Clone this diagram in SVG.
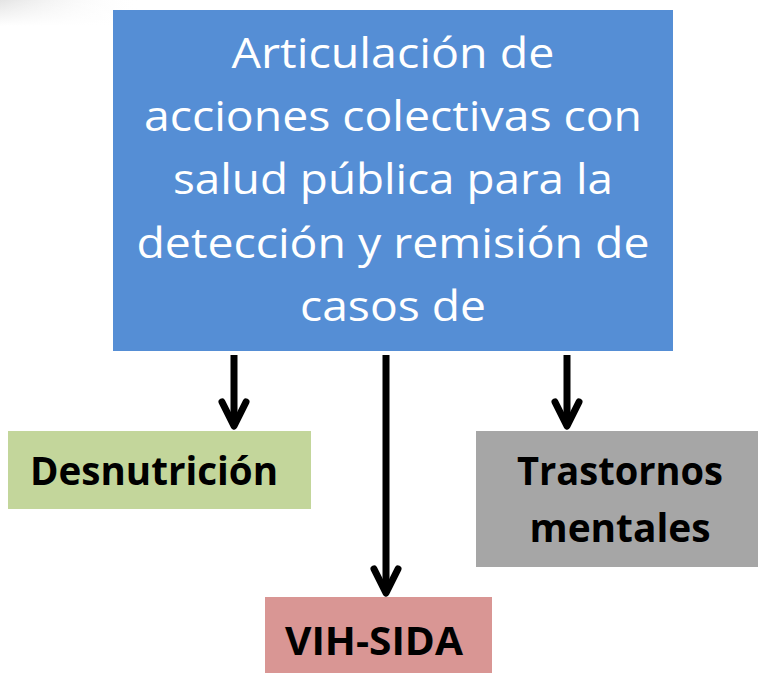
<svg xmlns="http://www.w3.org/2000/svg" width="758" height="673" viewBox="0 0 758 673">
<style>
.main{fill:#558ed5;}
.t1{font-family:"Open Sans","Noto Sans","Liberation Sans",sans-serif;font-size:42px;fill:#ffffff;text-anchor:middle;}
.t2{font-family:"Open Sans","Noto Sans","Liberation Sans",sans-serif;font-size:40px;font-weight:bold;fill:#000000;text-anchor:middle;}
.conn{stroke:#000;stroke-width:7;fill:none;}
</style>
<defs>
<marker id="arr" markerUnits="userSpaceOnUse" markerWidth="40" markerHeight="40" refX="0" refY="0" viewBox="-30 -20 40 40" orient="auto" overflow="visible">
<path d="M-24,-12 L0,0 L-24,12" stroke="#000" stroke-width="7" fill="none" stroke-linecap="round" stroke-linejoin="round"/>
</marker>
<linearGradient id="sh" x1="0" y1="0" x2="1" y2="0">
<stop offset="0" stop-color="#e4e4e4"/>
<stop offset="1" stop-color="#ffffff" stop-opacity="0"/>
</linearGradient>
<linearGradient id="shv" x1="0" y1="0" x2="0" y2="1">
<stop offset="0" stop-color="#ffffff" stop-opacity="0"/>
<stop offset="1" stop-color="#ffffff"/>
</linearGradient>
</defs>
<rect width="758" height="673" fill="#ffffff"/>
<rect x="0" y="0" width="140" height="26" fill="url(#sh)"/>
<rect x="0" y="0" width="140" height="26" fill="url(#shv)"/>
<g id="connectors">
<line class="conn" x1="234" y1="355" x2="234" y2="426" marker-end="url(#arr)"/>
<line class="conn" x1="386" y1="355" x2="386" y2="593" marker-end="url(#arr)"/>
<line class="conn" x1="567" y1="355" x2="567" y2="426" marker-end="url(#arr)"/>
</g>
<g id="main">
<rect class="main" x="113" y="10" width="560" height="341"/>
<text class="t1" x="393" y="68" textLength="323" lengthAdjust="spacingAndGlyphs">Articulación de</text>
<text class="t1" x="393" y="131" textLength="498" lengthAdjust="spacingAndGlyphs">acciones colectivas con</text>
<text class="t1" x="393" y="194" textLength="440" lengthAdjust="spacingAndGlyphs">salud pública para la</text>
<text class="t1" x="393" y="258" textLength="513" lengthAdjust="spacingAndGlyphs">detección y remisión de</text>
<text class="t1" x="393" y="321" textLength="186" lengthAdjust="spacingAndGlyphs">casos de</text>
</g>
<g id="desnutricion">
<rect x="8" y="431" width="303" height="78" fill="#c3d69b"/>
<text class="t2" x="154" y="485" textLength="248" lengthAdjust="spacingAndGlyphs">Desnutrición</text>
</g>
<g id="trastornos">
<rect x="476" y="431" width="282" height="136" fill="#a6a6a6"/>
<text class="t2" x="620" y="485" textLength="206" lengthAdjust="spacingAndGlyphs">Trastornos</text>
<text class="t2" x="620" y="542" textLength="181" lengthAdjust="spacingAndGlyphs">mentales</text>
</g>
<g id="vih">
<rect x="265" y="597" width="227" height="76" fill="#d99694"/>
<text class="t2" x="374" y="655" textLength="178" lengthAdjust="spacingAndGlyphs">VIH-SIDA</text>
</g>
</svg>
